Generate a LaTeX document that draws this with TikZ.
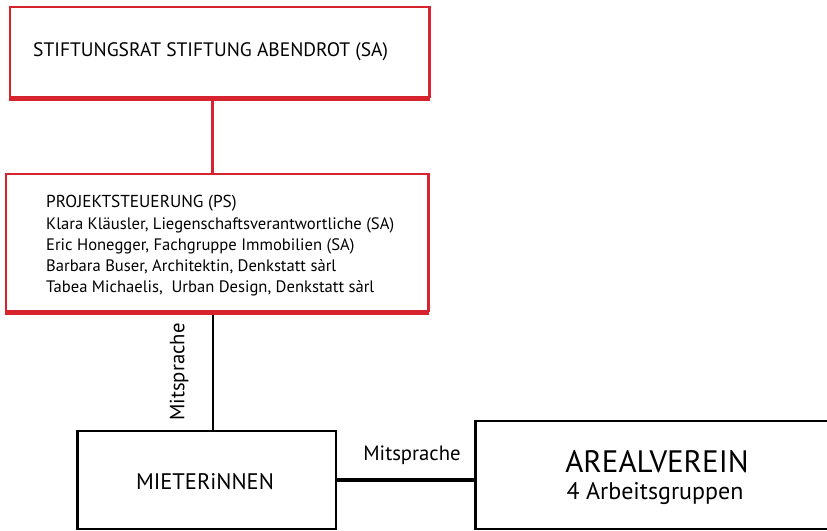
\documentclass[tikz,border=0pt]{standalone}
\usepackage{fontspec}
\setmainfont{PT Sans}
\definecolor{redline}{RGB}{214,35,45}
\begin{document}
\begin{tikzpicture}[x=1pt,y=-1pt,
  redbox/.style={draw=redline, line width=1.5pt, fill=white, inner sep=0pt, anchor=north west},
  blackbox/.style={draw=black, line width=1.5pt, fill=white, inner sep=0pt, anchor=north west},
  lbl/.style={inner sep=0pt, anchor=west},
  redshadow/.style={draw=redline, line width=4pt},
  conn/.style={draw=black, line width=2pt},
]
\useasboundingbox[fill=white] (0,0) rectangle (827,530);

% boxes
\node[redbox, minimum width=419pt, minimum height=90pt] (sr) at (9,6) {};
\node[redbox, minimum width=422pt, minimum height=137pt] (ps) at (5,173) {};
\node[blackbox, minimum width=258pt, minimum height=98pt] (mi) at (77,430) {};
\node[blackbox, minimum width=356pt, minimum height=108pt] (ar) at (475,420) {};

% thick shadow edges
\draw[redshadow] ([yshift=-1.5pt]sr.south west) -- ([yshift=-1.5pt]sr.south east);
\draw[redline, line width=2.5pt] (sr.south east) -- (sr.north east);
\draw[redshadow] ([yshift=-1.5pt]ps.south west) -- ([yshift=-1.5pt]ps.south east);
\draw[redline, line width=2.5pt] (ps.south east) -- (ps.north east);
\draw[black, line width=3pt] (mi.south west) -- (mi.north west);
\draw[black, line width=2.5pt] (ar.south west) -- (ar.north west);

% connectors
\draw[redline, line width=3pt] ([xshift=-6.5pt, yshift=-2pt]sr.south) -- ([xshift=-4pt]ps.north);
\draw[conn] ([xshift=-4pt, yshift=-3pt]ps.south) -- ([xshift=-4pt]ps.south |- mi.north);
\draw[black, line width=3.5pt] (mi.east) -- (ar.west |- mi.east);

% texts
\node[lbl, font=\fontsize{19.5}{24}\selectfont] (t1) at (33,52) {STIFTUNGSRAT STIFTUNG ABENDROT (SA)};
\node[lbl, font=\fontsize{17.3}{22}\selectfont] (t2) at (46,203) {PROJEKTSTEUERUNG (PS)};
\node[lbl, font=\fontsize{16.6}{20}\selectfont] (t3) at (46,225) {Klara Kläusler, Liegenschaftsverantwortliche (SA)};
\node[lbl, font=\fontsize{16.6}{20}\selectfont] (t4) at (46,246) {Eric Honegger, Fachgruppe Immobilien (SA)};
\node[lbl, font=\fontsize{16.6}{20}\selectfont] (t5) at (46,267) {Barbara Buser, Architektin, Denkstatt sàrl};
\node[lbl, font=\fontsize{16.6}{20}\selectfont] (t6) at (46,288) {Tabea Michaelis,\ \ Urban Design, Denkstatt sàrl};
\node[inner sep=0pt, font=\fontsize{22.5}{26}\selectfont] (t7) at (205,482) {MIETERiNNEN};
\node[inner sep=0pt, font=\fontsize{31}{35}\selectfont] (t8) at (657,462) {AREALVEREIN};
\node[inner sep=0pt, font=\fontsize{24}{28}\selectfont] (t9) at (655,494) {4 Arbeitsgruppen};
\node[inner sep=0pt, rotate=90, font=\fontsize{20.7}{24}\selectfont] (m1) at (179,372) {Mitsprache};
\node[inner sep=0pt, font=\fontsize{20.7}{24}\selectfont] (m2) at (412,455) {Mitsprache};
\end{tikzpicture}
\end{document}
